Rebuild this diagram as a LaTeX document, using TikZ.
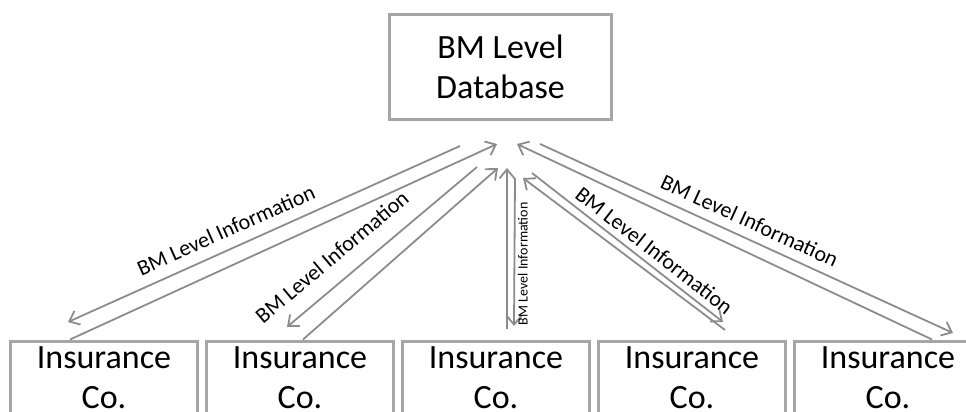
\documentclass[tikz,border=0pt]{standalone}
\usepackage{fontspec}
\setmainfont{Carlito}
\usetikzlibrary{arrows.meta,positioning}
\definecolor{boxgray}{RGB}{166,166,166}
\definecolor{linegray}{RGB}{140,140,140}

\begin{document}
\begin{tikzpicture}[
      x=1pt, y=-1pt,
      node distance=5.5pt,
      dbbox/.style={draw=boxgray, line width=3pt, align=center, minimum width=222pt, minimum height=104pt, font=\fontsize{34}{40}\selectfont},
      cobox/.style={draw=boxgray, line width=3pt, align=center, minimum width=187.5pt, minimum height=74pt, font=\fontsize{34}{40}\selectfont},
      arrow/.style={draw=linegray, line width=1.8pt, -{Straight Barb[length=9pt,width=15pt]}},
      lbl/.style={sloped, above, outer sep=0pt, inner sep=#1, font=\fontsize{22}{26}\selectfont},
      lbl/.default=8pt,
      vlbl/.style={rotate=90, anchor=north, outer sep=0pt, inner sep=3.5pt, font=\fontsize{14}{16}\selectfont}
  ]
    \useasboundingbox (0,0) rectangle (966,412);
    \node[dbbox] (db) at (500.5,67) {BM Level\\Database};
    \node[cobox] (co1) at (104,378) {Insurance\\Co.};
    \node[cobox, right=of co1] (co2) {Insurance\\Co.};
    \node[cobox, right=of co2] (co3) {Insurance\\Co.};
    \node[cobox, right=of co3] (co4) {Insurance\\Co.};
    \node[cobox, right=of co4] (co5) {Insurance\\Co.};
    % free ends below the database
    \coordinate (dbout1) at (460,146);
    \coordinate (dbin1) at (497,144);
    \coordinate (dbout2) at (477,167);
    \coordinate (dbin2) at (498,168);
    \coordinate (dbin3) at (507,168);
    \coordinate (dbout3) at (515,178);
    \coordinate (dbin4) at (523,178);
    \coordinate (dbout4) at (532,173);
    \coordinate (dbin5) at (517,144);
    \coordinate (dbout5) at (540,144);
    % free ends above the companies
    \coordinate (coin1) at (68,322);
    \coordinate (coin2) at (287,327);
    \coordinate (coout3) at (507,329);
    \coordinate (coin3) at (514,326);
    \coordinate (coout4) at (725,330);
    \coordinate (coin4) at (723,322);
    \coordinate (coin5) at (953,333);
    \draw[arrow] (dbout1) -- node[lbl=11.5pt, pos=0.577] {BM Level Information} (coin1);
    \draw[arrow] ([xshift=-34pt]co1.north) -- (dbin1);
    \draw[arrow] (dbout2) -- node[lbl=17pt, pos=0.68] {BM Level Information} (coin2);
    \draw[arrow] ([xshift=3pt]co2.north) -- (dbin2);
    \draw[arrow] (coout3) -- (dbin3);
    \draw[arrow] (dbout3) -- node[vlbl, pos=0.58] {BM Level Information} (coin3);
    \draw[arrow] (dbout4) -- node[lbl=6.5pt, pos=0.595] {BM Level Information} (coin4);
    \draw[arrow] (coout4) -- (dbin4);
    \draw[arrow] (dbout5) -- node[lbl=9.7pt, pos=0.49] {BM Level Information} (coin5);
    \draw[arrow] ([xshift=44pt]co5.north) -- (dbin5);
  \end{tikzpicture}
\end{document}
